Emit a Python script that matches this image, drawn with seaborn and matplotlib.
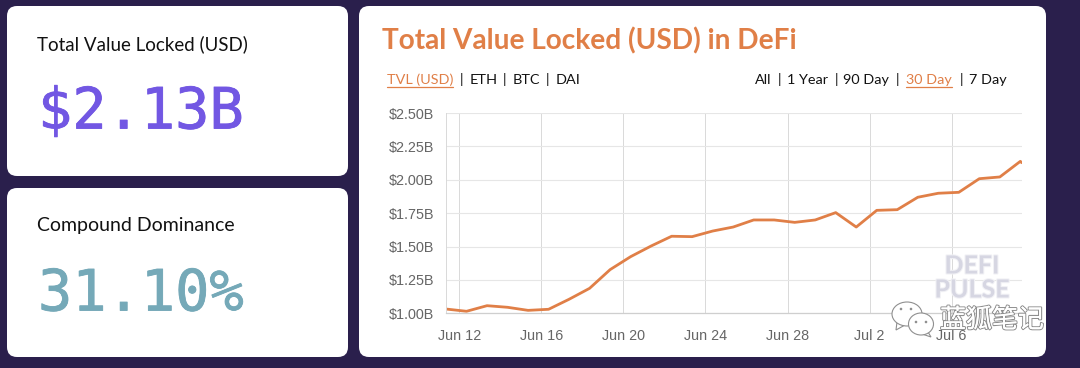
import pandas as pd
import matplotlib.pyplot as plt
import seaborn as sns
from matplotlib.patches import FancyBboxPatch, Ellipse, Polygon
import matplotlib.patheffects as pe

# data
dates = ['06-11', '06-12', '06-13', '06-14', '06-15', '06-16', '06-17', '06-18',
         '06-19', '06-20', '06-21', '06-22', '06-23', '06-24', '06-25', '06-26',
         '06-27', '06-28', '06-29', '06-30', '07-01', '07-02', '07-03', '07-04',
         '07-05', '07-06', '07-07', '07-08', '07-09']
tvl = [1.032, 1.015, 1.057, 1.045, 1.022, 1.030, 1.105, 1.187, 1.327, 1.424,
       1.504, 1.577, 1.574, 1.616, 1.646, 1.699, 1.699, 1.681, 1.699, 1.754,
       1.646, 1.771, 1.776, 1.869, 1.899, 1.906, 2.008, 2.021, 2.138]
last_time = '2020-07-09 10:00'
last_tvl = 2.128
y_ticks = [1.00, 1.25, 1.50, 1.75, 2.00, 2.25, 2.50]
x_ticks = ['2020-06-12', '2020-06-16', '2020-06-20', '2020-06-24', '2020-06-28', '2020-07-02', '2020-07-06']
x_labels = ['Jun 12', 'Jun 16', 'Jun 20', 'Jun 24', 'Jun 28', 'Jul 2', 'Jul 6']

BG = '#2a1f4c'
ORANGE = '#e07f47'
W, H = 1080, 368

sns.set_theme(style='white')
plt.rcParams['font.family'] = ['Lato', 'DejaVu Sans']

df = pd.DataFrame({'time': pd.to_datetime(['2020-' + d + ' 08:24' for d in dates] + [last_time]),
                   'tvl': tvl + [last_tvl]})

fig = plt.figure(figsize=(W / 100, H / 100), dpi=100, facecolor=BG)

# cards and text live on a full figure axes in pixel coordinates
back = fig.add_axes([0, 0, 1, 1], zorder=0)
back.set_xlim(0, W)
back.set_ylim(H, 0)
back.axis('off')
for x0, y0, x1, y1 in [(7, 6, 348, 176), (7, 188, 348, 357), (359, 6, 1046, 357)]:
    r = 10
    back.add_patch(FancyBboxPatch((x0 + r, y0 + r), x1 - x0 - 2 * r, y1 - y0 - 2 * r,
                                  boxstyle=f'round,pad={r},rounding_size={r}',
                                  fc='white', ec='none'))

back.text(37, 44, 'Total Value Locked (USD)', fontsize=13.5, color='#111111', va='center')
back.text(37, 225, 'Compound Dominance', fontsize=14, color='#111111', va='center')
heavy = [pe.withStroke(linewidth=0.6, foreground='#7257e3')]
back.text(38, 113, '$2.13B', family='DejaVu Sans Mono', fontsize=41, color='#7257e3', va='center',
          path_effects=heavy)
heavy = [pe.withStroke(linewidth=0.6, foreground='#75a9b8')]
back.text(38, 295, '31.10%', family='DejaVu Sans Mono', fontsize=41, color='#75a9b8', va='center',
          path_effects=heavy)
back.text(382, 41, 'Total Value Locked (USD) in DeFi', fontsize=20.2, fontweight='bold',
          color=ORANGE, va='center')

menu = [(387, 'TVL (USD)', True), (459.5, '|', False), (470, 'ETH', False), (502.5, '|', False),
        (513, 'BTC', False), (545.5, '|', False), (556, 'DAI', False),
        (755, 'All', False), (777.5, '|', False), (787, '1 Year', False), (834.5, '|', False),
        (843, '90 Day', False), (895.5, '|', False), (906, '30 Day', True), (959.5, '|', False),
        (969, '7 Day', False)]
for x, label, active in menu:
    t = back.text(x, 80, label, fontsize=10.4, color=ORANGE if active else '#111111', va='center')
    if active:
        fig.canvas.draw()
        bb = t.get_window_extent()
        back.plot([x, x + bb.width], [87, 87], color=ORANGE, lw=0.9)

# the chart itself
ax = fig.add_axes([446 / W, 1 - 313.3 / H, (1021.7 - 446) / W, (313.3 - 113) / H], zorder=1)
ax.patch.set_alpha(0)
sns.lineplot(data=df, x='time', y='tvl', color=ORANGE, lw=2.0, ax=ax, clip_on=True)
ax.set_xlim(df['time'].iloc[0], df['time'].iloc[-1])
ax.set_ylim(1.0, 2.5)
ax.set_xticks(pd.to_datetime(x_ticks))
ax.set_xticklabels(x_labels)
ax.set_yticks(y_ticks)
ax.set_yticklabels([f'${v:.2f}B' for v in y_ticks])
ax.set_xlabel('')
ax.set_ylabel('')
ax.grid(True, axis='x', color='#d9d9d9', lw=0.7)
ax.grid(True, axis='y', color='#e6e6e6', lw=0.8)
ax.set_axisbelow(True)
ax.tick_params(axis='x', length=8.6, width=0.7, color='#d9d9d9', labelsize=10.4, labelcolor='#666666', pad=2.5)
ax.tick_params(axis='y', length=6.5, width=0.8, color='#e6e6e6', labelsize=10.4, labelcolor='#666666', pad=2)
for lab in ax.get_xticklabels() + ax.get_yticklabels():
    lab.set_family('Liberation Sans')
for side in ['top', 'right']:
    ax.spines[side].set_visible(False)
ax.spines['left'].set_color('#d9d9d9')
ax.spines['left'].set_linewidth(0.7)
ax.spines['bottom'].set_color('#cfcfcf')
ax.spines['bottom'].set_linewidth(0.9)

# watermarks on top
front = fig.add_axes([0, 0, 1, 1], zorder=2)
front.set_xlim(0, W)
front.set_ylim(H, 0)
front.axis('off')
for x, y, label in [(972, 266, 'DEFI'), (972, 290, 'PULSE')]:
    front.text(x, y, label, fontsize=18, fontweight='bold', color='#d6d6e2', ha='center', va='center',
               path_effects=[pe.withStroke(linewidth=1.5, foreground='#f1f1f5')])
front.text(992, 320, '蓝狐笔记', family=['Noto Sans CJK SC', 'DejaVu Sans'], fontsize=18.7,
           color='white', ha='center', va='center',
           path_effects=[pe.withStroke(linewidth=1.6, foreground='#8f8f8f'), pe.Normal()])
# wechat logo
for cx, cy, w, h, tail in [(907, 314, 30, 24, [(897, 322), (896, 330), (905, 325)]),
                           (921, 324, 25, 22, [(928, 332), (931, 337), (922, 334)])]:
    front.add_patch(Polygon(tail, fc='white', ec='#8f8f8f', lw=0.8))
    front.add_patch(Ellipse((cx, cy), w, h, fc='white', ec='#8f8f8f', lw=0.8))
for ex, ey in [(901, 309), (911, 309), (916, 322), (926, 322)]:
    front.add_patch(Ellipse((ex, ey), 2.6, 2.6, fc='#8f8f8f', ec='none'))

plt.savefig('out.png', dpi=100, facecolor=BG)
plt.close()
